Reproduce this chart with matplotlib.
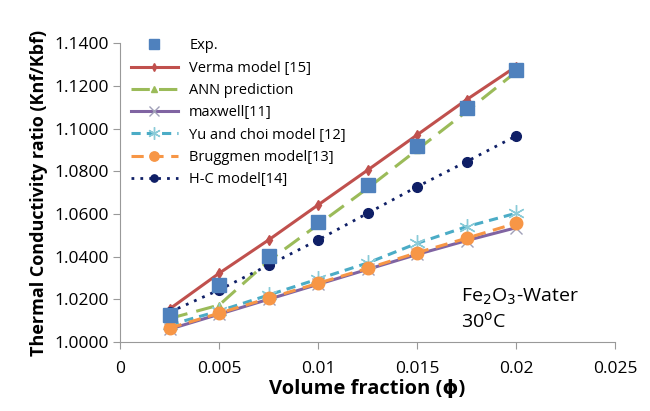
import matplotlib.pyplot as plt

plt.rcParams["font.family"] = ["Open Sans", "DejaVu Sans"]

vol_frac = [0.0025, 0.005, 0.0075, 0.01, 0.0125, 0.015, 0.0175, 0.02]

exp_vals = [1.0127, 1.0267, 1.0403, 1.0563, 1.0735, 1.0919, 1.1095, 1.1276]
verma_vals = [1.0155, 1.0322, 1.0478, 1.0642, 1.0805, 1.0970, 1.1135, 1.1290]
ann_vals = [1.0110, 1.0173, 1.0380, 1.0550, 1.0720, 1.0900, 1.1080, 1.1265]
maxwell_vals = [1.0060, 1.0130, 1.0200, 1.0270, 1.0340, 1.0410, 1.0475, 1.0535]
yu_choi_vals = [1.0080, 1.0145, 1.0220, 1.0295, 1.0370, 1.0462, 1.0540, 1.0603]
bruggmen_vals = [1.0065, 1.0135, 1.0205, 1.0275, 1.0345, 1.0418, 1.0486, 1.0556]
hc_vals = [1.0140, 1.0244, 1.0360, 1.0478, 1.0603, 1.0727, 1.0845, 1.0965]

x_ticks = [0, 0.005, 0.01, 0.015, 0.02, 0.025]
x_tick_labels = ["0", "0.005", "0.01", "0.015", "0.02", "0.025"]
y_ticks = [1.0, 1.02, 1.04, 1.06, 1.08, 1.10, 1.12, 1.14]

fig = plt.figure(figsize=(6.5, 4.11), dpi=100)
ax = fig.add_axes([0.185, 0.168, 0.761, 0.727])

ax.plot(vol_frac, verma_vals, color="#C0504D", lw=2.2, marker="d", ms=5,
        label="Verma model [15]", zorder=3)
ax.plot(vol_frac, ann_vals, color="#9BBB59", lw=2.2, ls=(0, (6, 3)), marker="^", ms=5,
        label="ANN prediction", zorder=3)
ax.plot(vol_frac, maxwell_vals, color="#8064A2", lw=2.2, marker="x", ms=9, mec="#A0A0B8",
        label="maxwell[11]", zorder=3)
ax.plot(vol_frac, yu_choi_vals, color="#4BACC6", lw=2.2, ls=(0, (3, 2)), marker=(6, 2, 0),
        ms=12, mec="#8ACBD8", mew=1, label="Yu and choi model [12]", zorder=3)
ax.plot(vol_frac, bruggmen_vals, color="#F79646", lw=2.2, ls=(0, (4, 2.5)), marker="o", ms=9,
        label="Bruggmen model[13]", zorder=4)
ax.plot(vol_frac, hc_vals, color="#0F1F66", lw=2, ls=(0, (1, 2.2)), marker="o", ms=7,
        label="H-C model[14]", zorder=4)
ax.plot(vol_frac, exp_vals, color="#4F81BD", ls="none", marker="s", ms=10,
        label="Exp.", zorder=5)

ax.set_xlim(0, 0.025)
ax.set_ylim(1.0, 1.14)
ax.set_xticks(x_ticks)
ax.set_xticklabels(x_tick_labels)
ax.set_yticks(y_ticks)
ax.set_yticklabels([f"{v:.4f}" for v in y_ticks])
ax.tick_params(axis="both", labelsize=12.5, color="#999999", direction="out", length=5)
ax.tick_params(axis="x", pad=9)

for side in ["top", "right"]:
    ax.spines[side].set_visible(False)
for side in ["left", "bottom"]:
    ax.spines[side].set_color("#999999")

ax.set_xlabel("Volume fraction (ϕ)", fontsize=14.5, fontweight="bold", labelpad=1)
ax.set_ylabel("Thermal Conductivity ratio (Knf/Kbf)", fontsize=13, fontweight="bold")

handles, labels = ax.get_legend_handles_labels()
order = [6, 0, 1, 2, 3, 4, 5]
ax.legend([handles[i] for i in order], [labels[i] for i in order],
          loc="upper left", bbox_to_anchor=(-0.005, 1.06), frameon=False,
          fontsize=10.5, handlelength=3.2, labelspacing=0.5, markerscale=0.75)

ax.text(0.0172, 1.005, "Fe$_2$O$_3$-Water\n30$^{\\mathrm{o}}$C", fontsize=14, va="bottom",
        linespacing=1.25)

fig.savefig("out.png", dpi=100)
